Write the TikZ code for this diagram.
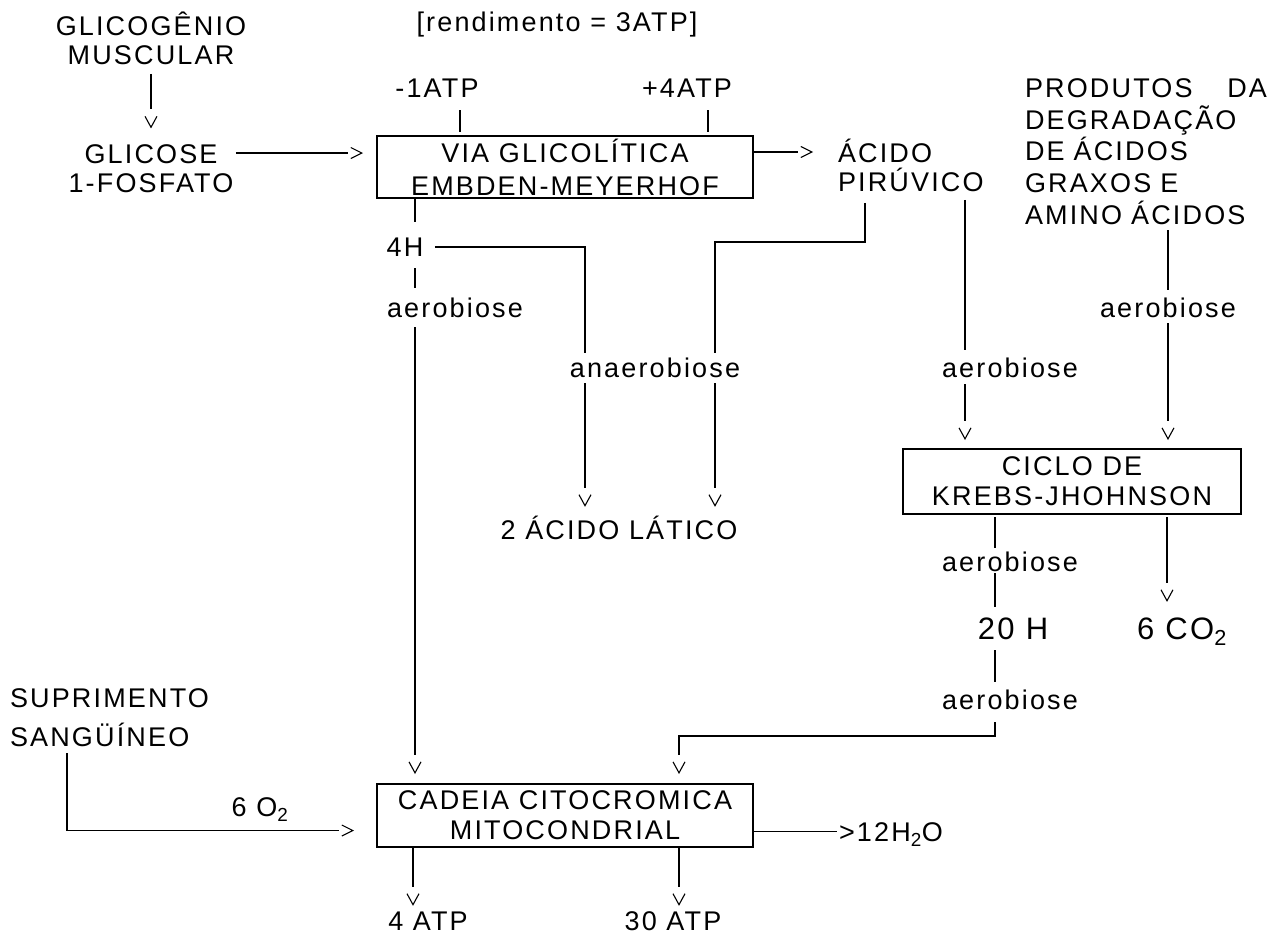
\documentclass[tikz,border=0pt]{standalone}
\usepackage{fontspec}
\setmainfont{Liberation Sans}[LetterSpace=8]
\usetikzlibrary{arrows.meta,decorations.markings}
\tikzset{
	wire/.style={line width=1.8pt},
	chevdown/.style={postaction={decorate,decoration={markings,mark=at position 1 with {\arrow{Straight Barb[length=11pt,width=12pt,line width=1.1pt]}}}}},
	chevright/.style={postaction={decorate,decoration={markings,mark=at position 1 with {\arrow{Straight Barb[length=11pt,width=11pt,line width=1.1pt]}}}}},
	flowdown/.style={wire,chevdown,shorten >=19pt},
	flowright/.style={wire,chevright,shorten >=15pt},
	txt/.style={inner sep=0pt,outer sep=0pt,align=center},
	lbl/.style={txt,text height=19.3pt,text depth=0pt},
	bigl/.style={lbl,font=\fontsize{31}{36}\selectfont,text height=22.2pt},
	box/.style={draw,line width=1.8pt,inner sep=0pt,outer sep=0pt,align=center}
}

\begin{document}
\begin{tikzpicture}[x=1pt,y=-1pt,every node/.style={font=\fontsize{27}{30}\selectfont}]
	\useasboundingbox (0,0) rectangle (1282,937);

	% boxes
	\node[box,minimum width=376pt,minimum height=62pt,font=\fontsize{27}{33}\selectfont] (via) at (565,167) {VIA GLICOLÍTICA\\EMBDEN-MEYERHOF};
	\node[box,minimum width=338pt,minimum height=65pt] (krebs) at (1072,481.5) {CICLO DE\\KREBS-JHOHNSON};
	\node[box,minimum width=376pt,minimum height=63pt] (cadeia) at (565,815.5) {CADEIA CITOCROMICA\\MITOCONDRIAL};

	% texts
	\node[txt,font=\fontsize{27}{29}\selectfont] (glicogenio) at (151,38) {GLICOGÊNIO\\MUSCULAR};
	\node[txt,font=\fontsize{27}{29}\selectfont] (glicose) at (151,168.5) {GLICOSE\\1-FOSFATO};
	\node[lbl] (rend) at (557,22) {[rendimento = 3ATP]};
	\node[lbl] (menos1) at (437,88) {-1ATP};
	\node[lbl] (mais4) at (687,88) {+4ATP};
	\node[txt,align=left,anchor=west,font=\fontsize{27}{29}\selectfont] (piruvico) at (838,165) {ÁCIDO\\PIRÚVICO};
	\node[txt,align=left,anchor=west,text width=242pt,font=\fontsize{27}{31.75}\selectfont] (produtos) at (1025,151.5) {PRODUTOS\hfill DA\\DEGRADAÇÃO\\DE ÁCIDOS\\GRAXOS E\\AMINO ÁCIDOS};
	\node[lbl] (h4) at (405,247) {4H};
	\node[lbl] (aerA) at (455,308) {aerobiose};
	\node[lbl] (anaer) at (655,368) {anaerobiose};
	\node[lbl] (latico) at (619,530) {2 ÁCIDO LÁTICO};
	\node[lbl] (aerB) at (1010,368) {aerobiose};
	\node[lbl] (aerC) at (1168,308) {aerobiose};
	\node[lbl] (aerD) at (1010,562) {aerobiose};
	\node[bigl] (h20) at (1013,628) {20 H};
	\node[bigl] (co2) at (1182,628) {6 CO\textsubscript{2}};
	\node[lbl] (aerE) at (1010,700) {aerobiose};
	\node[txt,align=left,anchor=west,font=\fontsize{27}{39}\selectfont] (suprimento) at (10,717.5) {SUPRIMENTO\\SANGÜÍNEO};
	\node[lbl] (o2) at (260,807) {6 O\textsubscript{2}};
	\node[lbl,anchor=west] (agua) at (839,832) {>12H\textsubscript{2}O};
	\node[lbl] (atp4) at (428,921) {4 ATP};
	\node[lbl] (atp30) at (673,921) {30 ATP};

	% connectors
	\draw[flowdown,shorten <=9.5pt] (glicogenio.south) -- ([yshift=16pt]glicose.north);
	\draw[flowright,shorten <=2.5pt] ([yshift=14pt]via.west -| glicose.east) -- ([xshift=-14pt,yshift=14pt]via.west);
	\draw[wire,shorten <=12.5pt,shorten >=4pt] ([xshift=23pt]menos1.south) -- ([xshift=23pt]menos1.south |- via.north);
	\draw[wire,shorten <=12.5pt,shorten >=4pt] ([xshift=21pt]mais4.south) -- ([xshift=21pt]mais4.south |- via.north);
	\draw[flowright] ([yshift=15pt]via.east) -- ([xshift=-25pt,yshift=15pt]via.east -| piruvico.west);
	\draw[wire,shorten >=15.5pt] ([xshift=38pt]via.south west) -- ([xshift=10pt]h4.north);
	\draw[wire,shorten <=11.5pt,shorten >=10.5pt] ([xshift=10pt]h4.south) -- ([xshift=-40pt]aerA.north);
	\draw[flowdown,shorten <=9.5pt] ([xshift=-40pt]aerA.south) -- ([xshift=-40pt,yshift=10pt]aerA.south |- cadeia.north);
	\draw[wire,shorten <=11.5pt,shorten >=5.5pt] (h4.east) -| ([xshift=-70pt]anaer.north);
	\draw[flowdown,shorten <=5.5pt] ([xshift=-70pt]anaer.south) -- ([xshift=-34pt,yshift=13.5pt]latico.north);
	\draw[wire,shorten <=11.5pt,shorten >=5.5pt] ([xshift=27pt]piruvico.south west) -- ++(0,51) -| ([xshift=60pt]anaer.north);
	\draw[flowdown,shorten <=5.5pt] ([xshift=60pt]anaer.south) -- ([xshift=96pt,yshift=13.5pt]latico.north);
	\draw[wire,shorten <=8.5pt,shorten >=8.5pt] ([xshift=127pt]piruvico.south west) -- ([xshift=-45pt]aerB.north);
	\draw[flowdown,shorten <=6.5pt] ([xshift=-45pt]aerB.south) -- ([xshift=-45pt,yshift=9pt]aerB.south |- krebs.north);
	\draw[wire,shorten <=5.5pt,shorten >=8.5pt] (produtos.south -| aerC) -- (aerC.north);
	\draw[flowdown,shorten <=5.5pt] (aerC.south) -- ([yshift=9pt]aerC.south |- krebs.north);
	\draw[wire,shorten <=3pt,shorten >=4.5pt] ([xshift=-15pt]aerD.north |- krebs.south) -- ([xshift=-15pt]aerD.north);
	\draw[wire,shorten <=1.5pt,shorten >=10pt] ([xshift=-15pt]aerD.south) -- ([xshift=-18pt]h20.north);
	\draw[wire,shorten <=11pt,shorten >=8.5pt] ([xshift=-18pt]h20.south) -- ([xshift=-15pt]aerE.north);
	\draw[flowdown,shorten <=12.5pt] ([xshift=-15pt]aerE.south) -- ++(0,26) -| ([xshift=114pt,yshift=10pt]cadeia.north);
	\draw[flowdown,shorten <=3pt] ([xshift=-15pt]co2.north |- krebs.south) -- ([xshift=-15pt,yshift=15pt]co2.north);
	\draw[flowright,shorten <=6.5pt] ([xshift=57pt]suprimento.south west) |- ([xshift=-23pt,yshift=-15pt]cadeia.west);
	\draw[wire,shorten >=2pt] ([yshift=-16pt]cadeia.east) -- ([yshift=-16pt]cadeia.east -| agua.west);
	\draw[flowdown,shorten <=1pt] ([xshift=-15pt]atp4.north |- cadeia.south) -- ([xshift=-15pt,yshift=5.5pt]atp4.north);
	\draw[flowdown,shorten <=1pt] ([xshift=6pt]atp30.north |- cadeia.south) -- ([xshift=6pt,yshift=5.5pt]atp30.north);

\end{tikzpicture}
\end{document}
